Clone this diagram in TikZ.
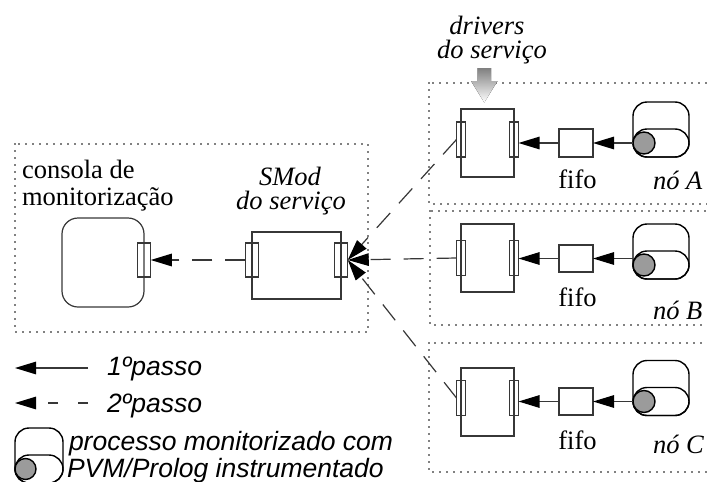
\documentclass[tikz,border=0pt]{standalone}
\usepackage{fontspec}
\setmainfont{Liberation Serif}
\newfontfamily\legendfont{Liberation Sans}
\usetikzlibrary{arrows.meta}
\definecolor{shade}{RGB}{155,155,155}
\definecolor{ink}{RGB}{55,55,55}

\tikzset{
  every node/.style={inner sep=0pt, outer sep=0pt},
  unitbox/.style={rectangle, draw=ink, line width=1.2pt},
  drvport/.style={rectangle, draw=ink, line width=1.2pt, minimum width=9pt, minimum height=35pt},
  modport/.style={rectangle, draw=ink, line width=1.2pt, minimum width=13.5pt, minimum height=34pt},
  dotframe/.style={draw=black, line width=1.6pt, line cap=round, dash pattern=on 0pt off 7pt},
  flowline/.style={draw=ink, line width=1.2pt,
    -{Triangle[length=21pt,width=12.5pt,color=black]}},
  flowdashed/.style={flowline, dash pattern=on 20pt off 13pt},
  serif/.style={font=\fontsize{26.5}{27}\selectfont},
  serifit/.style={font=\fontsize{26.5}{27}\selectfont\itshape},
  sansit/.style={font=\legendfont\fontsize{26.5}{27}\selectfont\itshape},
  procicon/.pic={
    \draw[black, line width=1.4pt, rounded corners=14pt] (-11,-41) rectangle (45,14);
    \draw[black, line width=1.4pt, rounded corners=14pt] (-11,-14) rectangle (45,14);
    \node[circle, draw=black, fill=shade, line width=1.4pt, minimum size=22pt] (-c) at (0,0) {};
  }
}

\begin{document}
\begin{tikzpicture}[x=1pt,y=-1pt]
\useasboundingbox (0,0) rectangle (707,482);
\clip (0,0) rectangle (707,482);

% dotted frames: console and the three nodes
\draw[dotframe] (15,144) rectangle (368,332);
\draw[dotframe] (429,83) rectangle (730,204);
\draw[dotframe] (430,211) rectangle (730,325);
\draw[dotframe] (429,343) rectangle (730,472);

% monitoring console
\node[rectangle, draw=ink, line width=1.2pt, rounded corners=16pt,
      minimum width=82pt, minimum height=89pt] (console) at (103,262.5) {};
\node[modport] (conport) at (144,260) {};
\node[serif, anchor=base west] (conA) at (22,178) {consola de};
\node[serif, anchor=base west] (conB) at (22,205) {monitorização};

% SMod of the service
\node[unitbox, minimum width=89pt, minimum height=67pt] (smod) at (296.5,265.5) {};
\node[modport] (smodL) at (252,260) {};
\node[modport] (smodR) at (341,260) {};
\node[serifit, anchor=base] (smodA) at (290,185) {SMod};
\node[serifit, anchor=base] (smodB) at (291,209) {do serviço};

% service drivers label and arrow
\node[serifit, anchor=base] (drvA) at (487,34) {drivers};
\node[serifit, anchor=base] (drvB) at (492,58) {do serviço};
\fill[shade] (477.5,68) -- (491,68) -- (491,81) -- (497.5,81) -- (484.3,102.5)
  -- (471,81) -- (477.5,81) -- cycle;

% node A
\node[unitbox, minimum width=53pt, minimum height=68pt] (dA) at (487.5,143) {};
\node[drvport] (dAL) at (461,139.5) {};
\node[drvport] (dAR) at (514,139.5) {};
\node[unitbox, minimum width=34pt, minimum height=28pt] (fA) at (576,143) {};
\pic (pA) at (644,143) {procicon};
\node[serif, anchor=base] (fAt) at (577.5,188) {fifo};
\node[serifit, anchor=base west] (nA) at (653,189) {nó A};

% node B
\node[unitbox, minimum width=53pt, minimum height=68pt] (dB) at (487.5,258) {};
\node[drvport] (dBL) at (461,258) {};
\node[drvport] (dBR) at (514,258) {};
\node[unitbox, minimum width=34pt, minimum height=27pt] (fB) at (576,258.5) {};
\pic (pB) at (644,265) {procicon};
\node[serif, anchor=base] (fBt) at (577.5,306) {fifo};
\node[serifit, anchor=base west] (nB) at (653,319) {nó B};

% node C
\node[unitbox, minimum width=53pt, minimum height=68pt] (dC) at (487.5,402) {};
\node[drvport] (dCL) at (461,398) {};
\node[drvport] (dCR) at (514,398) {};
\node[unitbox, minimum width=34pt, minimum height=27pt] (fC) at (576,401.5) {};
\pic (pC) at (644,401.5) {procicon};
\node[serif, anchor=base] (fCt) at (577.5,449) {fifo};
\node[serifit, anchor=base west] (nC) at (653,453) {nó C};

% first step: process -> fifo -> driver
\draw[flowline] (pA-c.west) -- (fA.east);
\draw[flowline] (fA.west) -- (fA.west -| dAR.east);
\draw[flowline] (pB-c.west |- fB.east) -- (fB.east);
\draw[flowline] (fB.west) -- (fB.west -| dBR.east);
\draw[flowline] (pC-c.west) -- (fC.east);
\draw[flowline] (fC.west) -- (fC.west -| dCR.east);

% second step: drivers -> SMod -> console
\draw[flowdashed] (dAL.west) -- (smodR.east);
\draw[flowdashed] (dBL.west) -- (smodR.east);
\draw[flowdashed] (dCL.west) -- (smodR.east);
\draw[flowdashed] (smodL.west) -- (conport.east);

% legend
\coordinate (k1s) at (88,368);
\coordinate (k1e) at (15,368);
\coordinate (k2s) at (88,403);
\coordinate (k2e) at (15,403);
\draw[flowline] (k1s) -- (k1e);
\draw[flowline, dash pattern=on 10pt off 20pt] (k2s) -- (k2e);
\node[sansit, anchor=base west] (k1t) at (107,375) {1ºpasso};
\node[sansit, anchor=base west] (k2t) at (107,412) {2ºpasso};
\draw[black, line width=1.4pt, rounded corners=14pt] (15,428) rectangle (63,483);
\draw[black, line width=1.4pt, rounded corners=14pt] (15,455) rectangle (63,483);
\node[circle, draw=black, fill=shade, line width=1.4pt, minimum size=21pt] (kc) at (25.5,469) {};
\node[sansit, anchor=base west] (k3t) at (69,450) {processo monitorizado com};
\node[sansit, anchor=base west] (k4t) at (67,477) {PVM/Prolog instrumentado};
\end{tikzpicture}
\end{document}
